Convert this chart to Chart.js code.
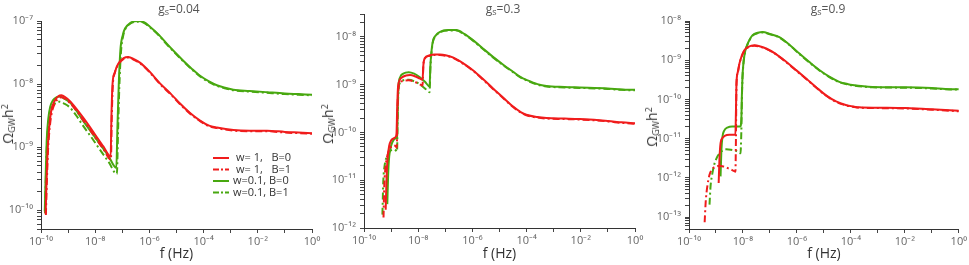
<!DOCTYPE html>
<html>
<head>
<meta charset="utf-8">
<script src="https://cdn.jsdelivr.net/npm/chart.js@4/dist/chart.umd.min.js"></script>
<style>
  body { margin: 0; background: #fff; width: 969px; height: 265px; overflow: hidden; position: relative; font-family: "Open Sans", sans-serif; }
  .panel { position: absolute; top: 0; width: 323px; height: 265px; }
  .ttl { position: absolute; top: 0; transform: translateX(-50%); font-size: 12px; color: #555; white-space: nowrap; }
  .ttl sub { font-size: 9px; vertical-align: -2px; }
  .ylab { position: absolute; transform: translate(-50%, -50%) rotate(-90deg); font-size: 14px; color: #333; white-space: nowrap; }
  .ylab sub { font-size: 9px; vertical-align: -2px; }
  .ylab sup { font-size: 9px; vertical-align: 5px; }
</style>
</head>
<body>
<div class="panel" style="left:0"><canvas id="c1"></canvas></div>
<div class="panel" style="left:323px"><canvas id="c2"></canvas></div>
<div class="panel" style="left:646px"><canvas id="c3"></canvas></div>

<div class="ttl" style="left:179px">g<sub>s</sub>=0.04</div>
<div class="ttl" style="left:503px">g<sub>s</sub>=0.3</div>
<div class="ttl" style="left:828px">g<sub>s</sub>=0.9</div>
<div class="ylab" style="left:8px;top:124px">Ω<sub>GW</sub>h<sup>2</sup></div>
<div class="ylab" style="left:328px;top:124px">Ω<sub>GW</sub>h<sup>2</sup></div>
<div class="ylab" style="left:652px;top:127px">Ω<sub>GW</sub>h<sup>2</sup></div>

<script>
// values are [log10 f, log10 Omega h^2]
const labels = ["w= 1,   B=0", "w= 1,   B=1", "w=0.1, B=0", "w=0.1, B=1"];

// g_s = 0.04
const g004_w1_B0 = [[-9.83,-10.06],[-9.80,-9.6],[-9.76,-9.1],[-9.70,-8.7],[-9.62,-8.42],[-9.50,-8.27],[-9.35,-8.19],[-9.25,-8.18],[-9.10,-8.21],[-8.94,-8.27],[-8.70,-8.39],[-8.45,-8.53],[-8.20,-8.68],[-7.95,-8.84],[-7.70,-8.99],[-7.43,-9.15],[-7.40,-8.5],[-7.36,-8.0],[-7.28,-7.82],[-7.15,-7.68],[-6.95,-7.59],[-6.78,-7.57],[-6.55,-7.61],[-6.35,-7.66],[-6.00,-7.80],[-5.61,-7.99],[-5.20,-8.16],[-4.87,-8.31],[-4.50,-8.46],[-4.13,-8.58],[-3.80,-8.66],[-3.51,-8.69],[-2.90,-8.73],[-2.30,-8.74],[-1.66,-8.74],[-1.00,-8.76],[-0.50,-8.77],[0,-8.78]];
const g004_w1_B1 = [[-9.82,-10.08],[-9.78,-9.5],[-9.74,-9.05],[-9.68,-8.7],[-9.60,-8.45],[-9.48,-8.30],[-9.33,-8.22],[-9.24,-8.21],[-9.10,-8.24],[-8.94,-8.30],[-8.70,-8.42],[-8.45,-8.57],[-8.20,-8.72],[-7.95,-8.88],[-7.70,-9.03],[-7.42,-9.20],[-7.39,-8.55],[-7.35,-8.02],[-7.28,-7.83],[-7.15,-7.69],[-6.95,-7.60],[-6.78,-7.58],[-6.55,-7.62],[-6.35,-7.67],[-6.00,-7.81],[-5.61,-8.00],[-5.20,-8.17],[-4.87,-8.32],[-4.50,-8.47],[-4.13,-8.59],[-3.80,-8.67],[-3.51,-8.70],[-2.90,-8.74],[-2.30,-8.75],[-1.66,-8.75],[-1.00,-8.77],[-0.50,-8.78],[0,-8.79]];
const g004_w01_B0 = [[-9.86,-10.02],[-9.83,-9.5],[-9.79,-8.9],[-9.73,-8.55],[-9.66,-8.36],[-9.56,-8.26],[-9.42,-8.21],[-9.31,-8.20],[-9.15,-8.23],[-8.94,-8.29],[-8.70,-8.42],[-8.45,-8.58],[-8.15,-8.76],[-7.83,-8.95],[-7.50,-9.15],[-7.22,-9.33],[-7.18,-8.7],[-7.13,-8.0],[-7.07,-7.46],[-6.98,-7.22],[-6.90,-7.12],[-6.70,-7.03],[-6.47,-7.00],[-6.20,-7.02],[-5.98,-7.09],[-5.65,-7.22],[-5.36,-7.36],[-5.05,-7.50],[-4.75,-7.63],[-4.43,-7.76],[-4.13,-7.87],[-3.80,-7.96],[-3.51,-8.02],[-3.20,-8.06],[-2.90,-8.09],[-2.30,-8.11],[-1.66,-8.13],[-1.00,-8.15],[-0.50,-8.16],[0,-8.17]];
const g004_w01_B1 = [[-9.85,-10.05],[-9.82,-9.5],[-9.78,-8.95],[-9.72,-8.62],[-9.65,-8.45],[-9.55,-8.34],[-9.42,-8.29],[-9.31,-8.28],[-9.15,-8.31],[-8.94,-8.37],[-8.70,-8.50],[-8.45,-8.66],[-8.15,-8.84],[-7.83,-9.04],[-7.50,-9.24],[-7.20,-9.43],[-7.16,-8.8],[-7.11,-8.05],[-7.05,-7.50],[-6.97,-7.24],[-6.90,-7.14],[-6.70,-7.04],[-6.47,-7.01],[-6.20,-7.03],[-5.98,-7.10],[-5.65,-7.23],[-5.36,-7.37],[-5.05,-7.51],[-4.75,-7.64],[-4.43,-7.77],[-4.13,-7.88],[-3.80,-7.97],[-3.51,-8.03],[-3.20,-8.07],[-2.90,-8.10],[-2.30,-8.12],[-1.66,-8.14],[-1.00,-8.16],[-0.50,-8.17],[0,-8.18]];

// g_s = 0.3
const g03_w1_B0 = [[-9.20,-11.62],[-9.17,-11.0],[-9.13,-10.55],[-9.07,-10.28],[-9.00,-10.17],[-8.92,-10.13],[-8.84,-10.10],[-8.80,-10.02],[-8.78,-9.6],[-8.75,-9.1],[-8.70,-8.93],[-8.60,-8.85],[-8.45,-8.81],[-8.30,-8.80],[-8.10,-8.83],[-7.95,-8.87],[-7.84,-8.90],[-7.81,-8.6],[-7.76,-8.45],[-7.60,-8.39],[-7.40,-8.37],[-7.20,-8.37],[-6.95,-8.39],[-6.72,-8.43],[-6.35,-8.55],[-5.98,-8.70],[-5.60,-8.89],[-5.24,-9.08],[-4.85,-9.28],[-4.50,-9.46],[-4.20,-9.58],[-4.01,-9.63],[-3.60,-9.68],[-3.27,-9.70],[-2.60,-9.71],[-2.04,-9.72],[-1.00,-9.76],[-0.50,-9.79],[0,-9.81]];
const g03_w1_B1 = [[-9.28,-11.78],[-9.25,-11.1],[-9.20,-10.7],[-9.12,-10.45],[-9.02,-10.32],[-8.92,-10.28],[-8.84,-10.28],[-8.79,-10.32],[-8.77,-9.7],[-8.74,-9.15],[-8.68,-8.98],[-8.55,-8.92],[-8.35,-8.91],[-8.10,-8.95],[-7.95,-8.99],[-7.84,-9.02],[-7.81,-8.6],[-7.76,-8.46],[-7.60,-8.40],[-7.40,-8.38],[-7.20,-8.38],[-6.95,-8.40],[-6.72,-8.44],[-6.35,-8.56],[-5.98,-8.71],[-5.60,-8.90],[-5.24,-9.09],[-4.85,-9.29],[-4.50,-9.47],[-4.20,-9.59],[-4.01,-9.64],[-3.60,-9.69],[-3.27,-9.71],[-2.60,-9.72],[-2.04,-9.73],[-1.00,-9.77],[-0.50,-9.80],[0,-9.82]];
const g03_w01_B0 = [[-9.14,-11.5],[-9.11,-10.9],[-9.07,-10.5],[-9.00,-10.28],[-8.92,-10.17],[-8.84,-10.13],[-8.78,-10.1],[-8.76,-9.6],[-8.73,-9.05],[-8.67,-8.85],[-8.55,-8.77],[-8.35,-8.74],[-8.15,-8.77],[-7.95,-8.84],[-7.75,-8.94],[-7.58,-9.04],[-7.55,-8.6],[-7.50,-8.25],[-7.45,-8.07],[-7.35,-7.97],[-7.21,-7.90],[-6.90,-7.86],[-6.59,-7.86],[-6.30,-7.94],[-5.98,-8.07],[-5.60,-8.25],[-5.24,-8.42],[-4.85,-8.59],[-4.50,-8.73],[-4.20,-8.85],[-4.01,-8.90],[-3.60,-8.99],[-3.27,-9.03],[-2.60,-9.05],[-2.04,-9.06],[-1.00,-9.08],[-0.50,-9.10],[0,-9.11]];
const g03_w01_B1 = [[-9.32,-11.72],[-9.29,-11.05],[-9.24,-10.7],[-9.15,-10.5],[-9.05,-10.4],[-8.92,-10.36],[-8.82,-10.38],[-8.78,-10.40],[-8.76,-9.7],[-8.73,-9.15],[-8.67,-8.96],[-8.55,-8.91],[-8.35,-8.90],[-8.15,-8.93],[-7.95,-8.99],[-7.75,-9.08],[-7.58,-9.16],[-7.55,-8.65],[-7.50,-8.28],[-7.45,-8.09],[-7.35,-7.98],[-7.21,-7.91],[-6.90,-7.87],[-6.59,-7.87],[-6.30,-7.95],[-5.98,-8.08],[-5.60,-8.26],[-5.24,-8.43],[-4.85,-8.60],[-4.50,-8.74],[-4.20,-8.86],[-4.01,-8.91],[-3.60,-9.00],[-3.27,-9.04],[-2.60,-9.06],[-2.04,-9.07],[-1.00,-9.09],[-0.50,-9.11],[0,-9.12]];

// g_s = 0.9
const g09_w1_B0 = [[-8.90,-12.13],[-8.87,-11.5],[-8.83,-11.11],[-8.76,-10.98],[-8.68,-10.93],[-8.50,-10.90],[-8.28,-10.90],[-8.26,-10.3],[-8.24,-9.59],[-8.19,-9.30],[-8.13,-9.08],[-8.04,-8.88],[-7.94,-8.74],[-7.80,-8.66],[-7.57,-8.62],[-7.35,-8.65],[-7.14,-8.70],[-6.80,-8.83],[-6.40,-9.04],[-6.05,-9.24],[-5.67,-9.46],[-5.30,-9.68],[-4.93,-9.89],[-4.55,-10.05],[-4.19,-10.14],[-3.90,-10.18],[-3.69,-10.20],[-3.00,-10.21],[-1.97,-10.22],[-1.00,-10.25],[-0.50,-10.27],[0,-10.29]];
const g09_w1_B1 = [[-9.42,-13.13],[-9.38,-12.6],[-9.32,-12.21],[-9.24,-11.92],[-9.12,-11.76],[-8.99,-11.71],[-8.87,-11.69],[-8.72,-11.71],[-8.56,-11.75],[-8.40,-11.80],[-8.28,-11.84],[-8.26,-11.0],[-8.24,-9.62],[-8.19,-9.31],[-8.13,-9.09],[-8.04,-8.89],[-7.94,-8.75],[-7.80,-8.67],[-7.57,-8.63],[-7.35,-8.66],[-7.14,-8.71],[-6.80,-8.84],[-6.40,-9.05],[-6.05,-9.25],[-5.67,-9.47],[-5.30,-9.69],[-4.93,-9.90],[-4.55,-10.06],[-4.19,-10.15],[-3.90,-10.19],[-3.69,-10.21],[-3.00,-10.22],[-1.97,-10.23],[-1.00,-10.26],[-0.50,-10.28],[0,-10.30]];
const g09_w01_B0 = [[-8.83,-11.96],[-8.80,-11.3],[-8.76,-10.95],[-8.70,-10.80],[-8.56,-10.71],[-8.40,-10.69],[-8.10,-10.69],[-8.06,-10.5],[-8.04,-9.9],[-8.02,-9.45],[-7.98,-9.05],[-7.92,-8.78],[-7.85,-8.62],[-7.75,-8.47],[-7.64,-8.36],[-7.45,-8.30],[-7.27,-8.28],[-7.00,-8.33],[-6.65,-8.41],[-6.30,-8.59],[-5.91,-8.83],[-5.55,-9.04],[-5.17,-9.25],[-4.80,-9.42],[-4.43,-9.55],[-4.10,-9.61],[-3.94,-9.63],[-3.20,-9.68],[-1.97,-9.69],[-1.00,-9.71],[-0.50,-9.73],[0,-9.74]];
const g09_w01_B1 = [[-9.24,-12.68],[-9.20,-12.2],[-9.15,-11.95],[-9.08,-11.70],[-8.98,-11.50],[-8.87,-11.37],[-8.74,-11.30],[-8.62,-11.27],[-8.45,-11.28],[-8.31,-11.30],[-8.18,-11.33],[-8.09,-11.37],[-8.06,-10.8],[-8.04,-10.0],[-8.02,-9.5],[-7.98,-9.08],[-7.92,-8.79],[-7.85,-8.63],[-7.75,-8.48],[-7.64,-8.37],[-7.45,-8.31],[-7.27,-8.29],[-7.00,-8.34],[-6.65,-8.42],[-6.30,-8.60],[-5.91,-8.84],[-5.55,-9.05],[-5.17,-9.26],[-4.80,-9.43],[-4.43,-9.56],[-4.10,-9.62],[-3.94,-9.64],[-3.20,-9.69],[-1.97,-9.70],[-1.00,-9.72],[-0.50,-9.74],[0,-9.75]];

const xTickExps = [-10, -9, -8, -7, -6, -5, -4, -3, -2, -1, 0];

const RED = "#f01c1c";
const GREEN = "#48a810";
const DASHDOT = [7, 3, 2, 3];

const SUP = { "-": "\u207B", "0": "\u2070", "1": "\u00B9", "2": "\u00B2", "3": "\u00B3",
  "4": "\u2074", "5": "\u2075", "6": "\u2076", "7": "\u2077", "8": "\u2078", "9": "\u2079" };
function pow10Label(e) {
  return "10" + String(e).split("").map(c => SUP[c]).join("");
}
function logOf(v) {
  const e = Math.log10(v);
  return Math.abs(e - Math.round(e)) < 1e-6 ? Math.round(e) : null;
}

function toPoints(arr) {
  return arr.map(p => ({ x: Math.pow(10, p[0]), y: Math.pow(10, p[1]) }));
}

function series(arr, label, color, dashed) {
  return {
    label,
    data: toPoints(arr),
    borderColor: color,
    backgroundColor: color,
    borderWidth: 2,
    borderDash: dashed ? DASHDOT : [],
    pointRadius: 0,
    showLine: true,
    cubicInterpolationMode: "monotone"
  };
}

const legendInside = {
  id: "legendInside",
  afterDatasetsDraw(chart) {
    const ctx = chart.ctx;
    const rows = [158, 169.5, 181, 192.5];
    ctx.save();
    ctx.font = '11px "Open Sans", sans-serif';
    ctx.fillStyle = "#333";
    ctx.textBaseline = "middle";
    chart.data.datasets.forEach((ds, i) => {
      const y = rows[i];
      ctx.strokeStyle = ds.borderColor;
      ctx.lineWidth = 2;
      ctx.setLineDash(ds.borderDash.length ? [6, 2, 2, 2] : []);
      ctx.beginPath();
      ctx.moveTo(213, y);
      ctx.lineTo(229, y);
      ctx.stroke();
      ctx.setLineDash([]);
      ctx.fillText(ds.label, i < 2 ? 236 : 233, y);
    });
    ctx.restore();
  }
};

function makeChart(id, sets, yMin, yMax, yWidth, pad, xHeight, withLegend) {
  const yExpLo = Math.floor(Math.log10(yMin));
  const yExpHi = Math.ceil(Math.log10(yMax));
  const yTicks = [];
  for (let n = yExpLo; n <= yExpHi; n++) {
    for (let k = 1; k <= 9; k++) {
      const v = k * Math.pow(10, n);
      if (v >= yMin * 0.999 && v <= yMax * 1.001) yTicks.push(v);
    }
  }
  const gridOpts = { display: true, drawOnChartArea: false, drawTicks: true, tickLength: 4, color: "#444" };
  const tickFont = { family: "Open Sans", size: 11 };
  return new Chart(document.getElementById(id), {
    type: "scatter",
    data: {
      datasets: [
        series(sets[0], labels[0], RED, false),
        series(sets[1], labels[1], RED, true),
        series(sets[2], labels[2], GREEN, false),
        series(sets[3], labels[3], GREEN, true)
      ]
    },
    options: {
      responsive: true,
      maintainAspectRatio: false,
      animation: false,
      layout: { padding: { top: pad.top, right: pad.right, left: 0, bottom: 0 } },
      plugins: { legend: { display: false }, tooltip: { enabled: false } },
      scales: {
        x: {
          type: "logarithmic",
          min: 1e-10,
          max: 1,
          grid: gridOpts,
          border: { display: true, color: "#333", width: 1 },
          afterBuildTicks: s => { s.ticks = xTickExps.map(e => ({ value: Math.pow(10, e) })); },
          afterFit: s => { s.height = xHeight; },
          ticks: {
            autoSkip: false,
            maxRotation: 0,
            padding: 2,
            color: "#666",
            font: tickFont,
            callback: v => { const e = logOf(v); return e !== null && e % 2 === 0 ? pow10Label(e) : ""; }
          },
          title: { display: true, text: "f (Hz)", color: "#333", font: { family: "Open Sans", size: 14 }, padding: { top: 0, bottom: 3 } }
        },
        y: {
          type: "logarithmic",
          min: yMin,
          max: yMax,
          grid: gridOpts,
          border: { display: true, color: "#333", width: 1 },
          afterBuildTicks: s => { s.ticks = yTicks.map(v => ({ value: v })); },
          afterFit: s => { s.width = yWidth; },
          ticks: {
            autoSkip: false,
            padding: 4,
            color: "#666",
            font: tickFont,
            callback: v => { const e = logOf(v); return e !== null ? pow10Label(e) : ""; }
          }
        }
      }
    },
    plugins: withLegend ? [legendInside] : []
  });
}

makeChart("c1", [g004_w1_B0, g004_w1_B1, g004_w01_B0, g004_w01_B1], 5e-11, 1e-7, 41, { top: 21, right: 11 }, 36, true);
makeChart("c2", [g03_w1_B0, g03_w1_B1, g03_w01_B0, g03_w01_B1], 1e-12, 3e-8, 41, { top: 14, right: 11 }, 37, false);
makeChart("c3", [g09_w1_B0, g09_w1_B1, g09_w01_B0, g09_w01_B1], 5e-14, 1e-8, 43, { top: 21, right: 9 }, 36, false);
</script>
</body>
</html>
